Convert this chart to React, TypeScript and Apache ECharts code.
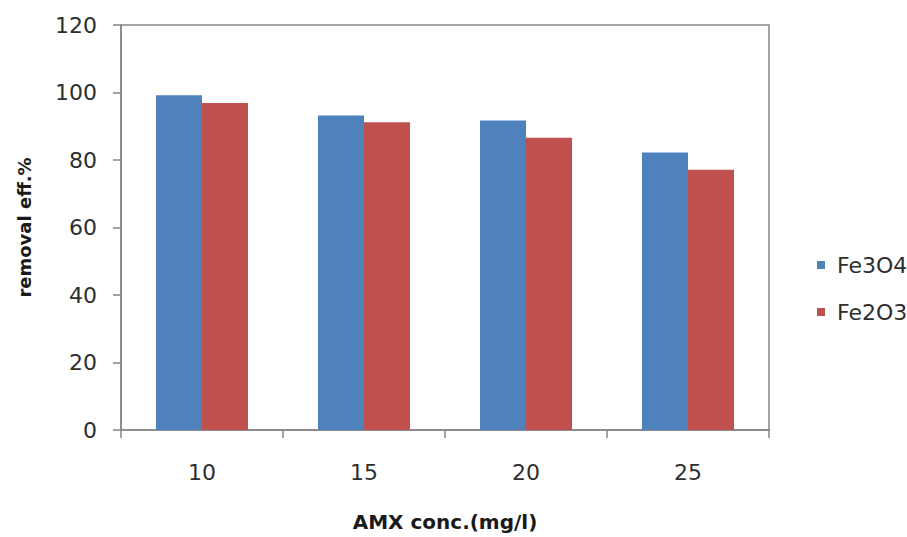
import React, { useEffect, useRef } from "react";
import * as echarts from "echarts";

// AMX concentration categories (mg/l)
const concentrations = ["10", "15", "20", "25"];
// Removal efficiency (%) for each adsorbent
const fe3o4Removal = [99.2, 93.2, 91.7, 82.2];
const fe2o3Removal = [96.9, 91.2, 86.6, 77.1];
// Value-axis ticks
const yTicks = [0, 20, 40, 60, 80, 100, 120];

const FONT = "DejaVu Sans";
const AXIS_GRAY = "#868686";

export default function App() {
  const ref = useRef<HTMLDivElement>(null);

  useEffect(() => {
    if (!ref.current) return;
    const chart = echarts.init(ref.current, undefined, { renderer: "svg" });
    chart.setOption({
      animation: false,
      backgroundColor: "#ffffff",
      textStyle: { fontFamily: FONT },
      grid: {
        left: 121,
        right: 138,
        top: 25,
        bottom: 107,
        show: true,
        borderColor: AXIS_GRAY,
        borderWidth: 1.5,
        backgroundColor: "transparent",
      },
      legend: {
        orient: "vertical",
        left: 812,
        top: 249,
        itemWidth: 8,
        itemHeight: 8,
        itemGap: 25,
        icon: "rect",
        textStyle: {
          fontFamily: FONT,
          fontSize: 22,
          color: "#2e2e2e",
          lineHeight: 22,
          padding: [0, 0, 0, 7],
        },
        data: ["Fe3O4", "Fe2O3"],
      },
      xAxis: {
        type: "category",
        data: concentrations,
        name: "AMX conc.(mg/l)",
        nameLocation: "middle",
        nameGap: 82,
        nameTextStyle: {
          fontFamily: FONT,
          fontSize: 20,
          fontWeight: "bold",
          color: "#1a1a1a",
        },
        axisLine: { show: true, lineStyle: { color: AXIS_GRAY, width: 1.5 } },
        axisTick: { show: true, length: 8, lineStyle: { color: AXIS_GRAY, width: 1.5 } },
        axisLabel: {
          margin: 31,
          fontFamily: FONT,
          fontSize: 22,
          color: "#2e2e2e",
        },
      },
      yAxis: {
        type: "value",
        min: yTicks[0],
        max: yTicks[yTicks.length - 1],
        interval: yTicks[1] - yTicks[0],
        name: "removal eff.%",
        nameLocation: "middle",
        nameGap: 88,
        nameTextStyle: {
          fontFamily: FONT,
          fontSize: 18,
          fontWeight: "bold",
          color: "#1a1a1a",
        },
        splitLine: { show: false },
        axisLine: { show: true, lineStyle: { color: AXIS_GRAY, width: 1.5 } },
        axisTick: { show: true, length: 8, lineStyle: { color: AXIS_GRAY, width: 1.5 } },
        axisLabel: {
          margin: 24,
          fontFamily: FONT,
          fontSize: 22,
          color: "#2e2e2e",
        },
      },
      series: [
        {
          name: "Fe3O4",
          type: "bar",
          data: fe3o4Removal,
          barWidth: 46,
          barGap: "0%",
          itemStyle: { color: "#4F81BD" },
        },
        {
          name: "Fe2O3",
          type: "bar",
          data: fe2o3Removal,
          barWidth: 46,
          barGap: "0%",
          itemStyle: { color: "#C0504D" },
        },
      ],
    });
    return () => chart.dispose();
  }, []);

  return (
    <div
      ref={ref}
      style={{ position: "fixed", left: 0, top: 0, width: 907, height: 537 }}
    />
  );
}
